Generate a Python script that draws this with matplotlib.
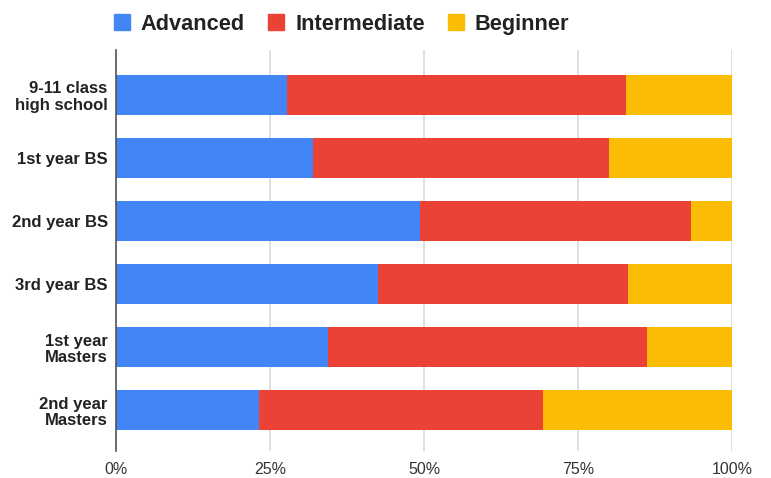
import matplotlib.pyplot as plt
import matplotlib.patches as mpatches
import numpy as np

# share of students per level, in percent
groups = ['9-11 class\nhigh school', '1st year BS', '2nd year BS', '3rd year BS',
          '1st year\nMasters', '2nd year\nMasters']
advanced = [27.7, 31.9, 49.3, 42.5, 34.4, 23.2]
intermediate = [55.1, 48.0, 43.9, 40.5, 51.8, 46.1]
beginner = [17.2, 20.1, 6.8, 17.0, 13.8, 30.7]

labels = ['Advanced', 'Intermediate', 'Beginner']
colors = ['#4285F4', '#EA4335', '#FBBC04']
xticks = [0, 25, 50, 75, 100]
xtick_labels = ['0%', '25%', '50%', '75%', '100%']

plt.rcParams['font.family'] = ['Liberation Sans', 'DejaVu Sans']

fig = plt.figure(figsize=(7.71, 4.78), dpi=100)
ax = fig.add_axes([0.1505, 0.0565, 0.7995, 0.839])

y = np.arange(len(groups))
left = np.zeros(len(groups))
for vals, color, lab in zip([advanced, intermediate, beginner], colors, labels):
    ax.barh(y, vals, left=left, height=0.635, color=color, label=lab, zorder=2)
    left += np.array(vals)

ax.set_xlim(0, 100)
ax.set_ylim(5.65, -0.714)
ax.set_xticks(xticks)
ax.set_xticklabels(xtick_labels, fontsize=11.5, color='#333333')
ax.set_yticks(y)
ax.set_yticklabels(groups, fontsize=12, fontweight='bold', color='#222222',
                   linespacing=1.1)
ax.tick_params(axis='both', length=0)
ax.tick_params(axis='y', pad=6)
ax.tick_params(axis='x', pad=8)

ax.grid(axis='x', color='#d9d9d9', linewidth=1.2, zorder=0)
for s in ['top', 'right', 'bottom']:
    ax.spines[s].set_visible(False)
ax.spines['left'].set_color('#555555')
ax.spines['left'].set_linewidth(1.2)
ax.spines['left'].set_zorder(3)

handles = [mpatches.Patch(color=colors[i], label=labels[i]) for i in range(len(labels))]
fig.legend(handles=handles, loc='center', ncol=3, bbox_to_anchor=(0.443, 0.949),
           frameon=False, prop={'size': 15.7, 'weight': 'bold'},
           handlelength=0.75, handleheight=0.75, handletextpad=0.5,
           columnspacing=1.05, labelcolor='#222222')

plt.savefig('out.png', dpi=100)
